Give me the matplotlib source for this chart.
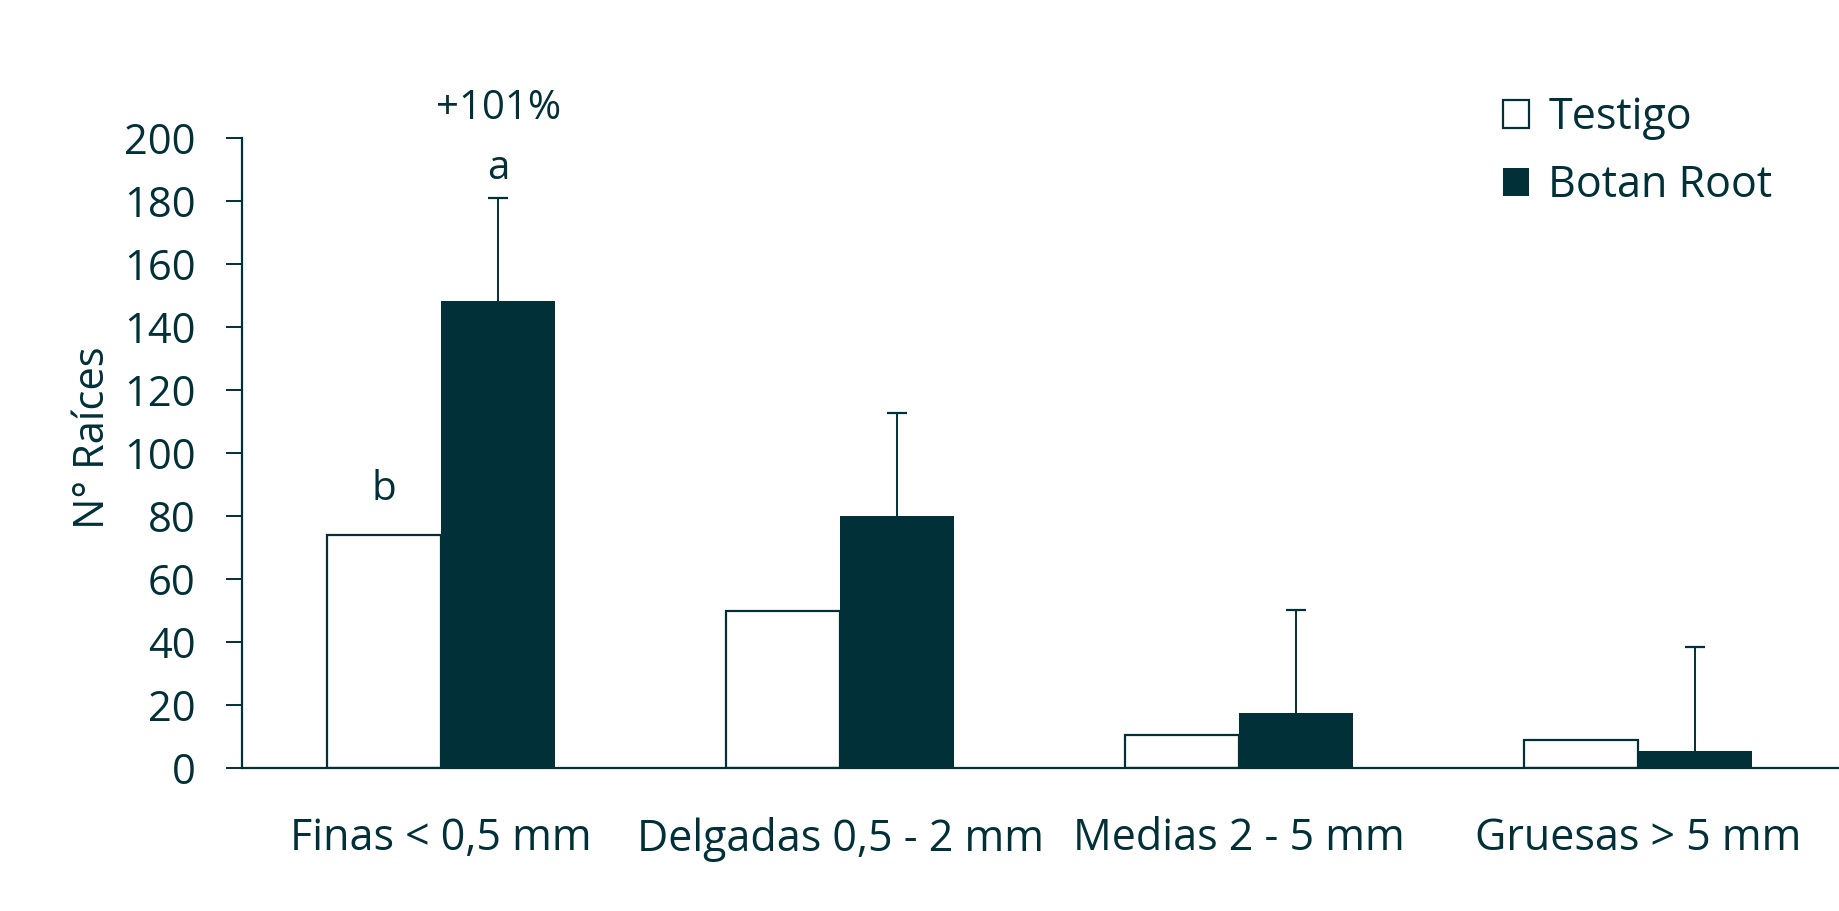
"""Número de raíces por diámetro: Testigo vs Botan Root."""
import matplotlib
matplotlib.use("Agg")
import matplotlib.pyplot as plt
import numpy as np

DARK = "#023038"

categorias = ["Finas < 0,5 mm", "Delgadas 0,5 - 2 mm", "Medias 2 - 5 mm", "Gruesas > 5 mm"]
testigo = [74, 50, 10.5, 9]
botan = [148.5, 80, 17.5, 5.5]
botan_err = [32.5, 32.8, 32.8, 33]
yticks = list(range(0, 201, 20))

plt.rcParams["font.family"] = ["Open Sans", "DejaVu Sans"]

fig = plt.figure(figsize=(18.39, 9.11), dpi=100)
ax = fig.add_axes([0.1314, 0.157, 0.868, 0.691])

x = np.arange(len(categorias))
w = 0.286
ax.bar(x - w / 2, testigo, w, color="white", edgecolor=DARK, linewidth=1.6,
       label="Testigo", zorder=2)
ax.bar(x + w / 2, botan, w, color=DARK, edgecolor=DARK, linewidth=0,
       label="Botan Root", zorder=2)
_, caps, _ = ax.errorbar(x + w / 2, botan, yerr=[[0] * len(botan), botan_err], fmt="none",
                         ecolor=DARK, elinewidth=1.4, capsize=7, capthick=1.6, zorder=1)
caps[0].set_visible(False)  # sin tapa inferior

ax.set_xlim(-0.5, len(categorias) - 0.5)
ax.set_ylim(0, 200)
ax.set_yticks(yticks)
ax.set_xticks(x)
ax.set_xticklabels(categorias)
ax.tick_params(axis="y", length=11.3, width=1.4, color=DARK, labelcolor=DARK,
               labelsize=30, pad=22)
ax.tick_params(axis="x", length=0, labelcolor=DARK, labelsize=31, pad=35)
for s in ["top", "right"]:
    ax.spines[s].set_visible(False)
for s in ["left", "bottom"]:
    ax.spines[s].set_color(DARK)
    ax.spines[s].set_linewidth(1.6)
ax.set_ylabel("N° Raíces", fontsize=30, color=DARK)
ax.yaxis.set_label_coords(-0.08, 0.525)

# letras de significancia
ax.text(x[0] - w / 2, testigo[0] + 8, "b", ha="center", va="bottom", fontsize=29, color=DARK)
ax.text(x[0] + w / 2, botan[0] + botan_err[0] + 3, "a", ha="center", va="bottom",
        fontsize=29, color=DARK)
ax.text(x[0] + w / 2, 203, "+101%", ha="center", va="bottom", fontsize=29, color=DARK,
        clip_on=False)

leg = fig.legend(loc="upper left", bbox_to_anchor=(0.808, 0.914), frameon=False,
                 fontsize=31, handlelength=0.6, handleheight=0.6, handletextpad=0.45,
                 labelspacing=0.55, labelcolor=DARK, borderaxespad=0)

plt.savefig("out.png", dpi=100, facecolor="white")
